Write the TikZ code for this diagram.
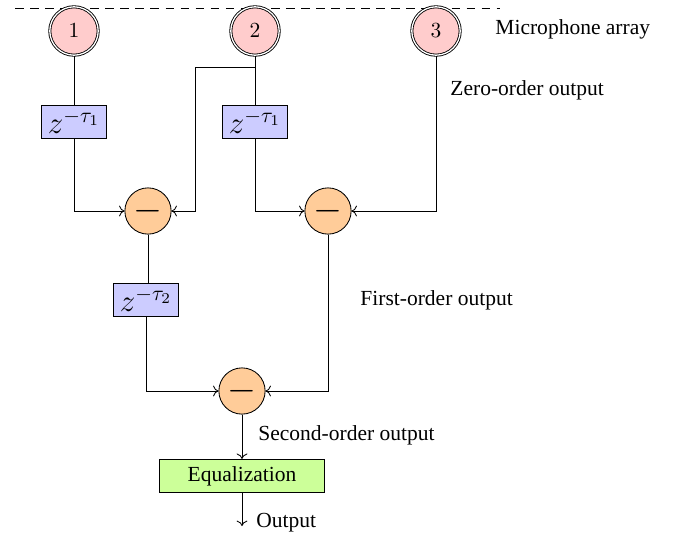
\documentclass[tikz,border=0pt]{standalone}
\usepackage{fontspec}
\setmainfont{Liberation Serif}
\usetikzlibrary{arrows.meta}
\definecolor{micfill}{RGB}{255,204,204}
\definecolor{delfill}{RGB}{204,204,255}
\definecolor{subfill}{RGB}{255,204,153}
\definecolor{eqfill}{RGB}{204,255,153}
\tikzset{
  mic/.style={circle, double, draw, fill=micfill, minimum size=22.5pt, inner sep=0pt},
  delay/.style={rectangle, draw, fill=delfill, minimum width=30.5pt, minimum height=15.5pt, inner sep=1pt},
  sub/.style={circle, draw, fill=subfill, minimum size=21.5pt, inner sep=0pt},
  eqbox/.style={rectangle, draw, fill=eqfill, minimum width=76.5pt, minimum height=15.5pt, inner sep=1pt},
  lbl/.style={anchor=west, inner sep=0pt},
  arr/.style={-{To[length=2.5pt,width=5pt]}},
}
\begin{document}
\begin{tikzpicture}[x=0.465pt, y=-0.465pt]
\useasboundingbox (0,0) rectangle (673,540);
\draw[dashed, dash pattern=on 4pt off 3pt] (15,8) -- (500,8);
\node[mic] (m1) at (74,31) {$1$};
\node[mic] (m2) at (255,31) {$2$};
\node[mic] (m3) at (436,31) {$3$};
\node[lbl] (tmic) at (495,29) {Microphone array};
\node[lbl] (tzero) at (450,90) {Zero-order output};
\node[delay] (d1) at (74,122) {\Large $z^{-\tau_1}$};
\node[delay] (d2) at (255,122) {\Large $z^{-\tau_1}$};
\node[sub] (s1) at (148,211) {\LARGE $-$};
\node[sub] (s2) at (328,211) {\LARGE $-$};
\node[delay] (d3) at (146,300) {\Large $z^{-\tau_2}$};
\node[lbl] (tfirst) at (360,300) {First-order output};
\node[sub] (s3) at (242,391) {\LARGE $-$};
\node[lbl] (tsecond) at (258,435) {Second-order output};
\node[eqbox] (eq) at (242,476) {Equalization};
\coordinate (out) at (242,526);
\node[lbl] (tout) at (256,523) {Output};
\coordinate (br) at (255,67);
\draw (m1) -- (d1);
\draw (m2) -- (d2);
\draw[arr] (d1) |- (s1);
\draw[arr] (br) -- (195,67) |- (s1);
\draw[arr] (d2) |- (s2);
\draw[arr] (m3) |- (s2);
\draw (s1) -- (s1 |- d3.north);
\draw[arr] (d3) |- (s3);
\draw[arr] (s2) |- (s3);
\draw[arr] (s3) -- (eq);
\draw[arr] (eq) -- (out);
\end{tikzpicture}
\end{document}
